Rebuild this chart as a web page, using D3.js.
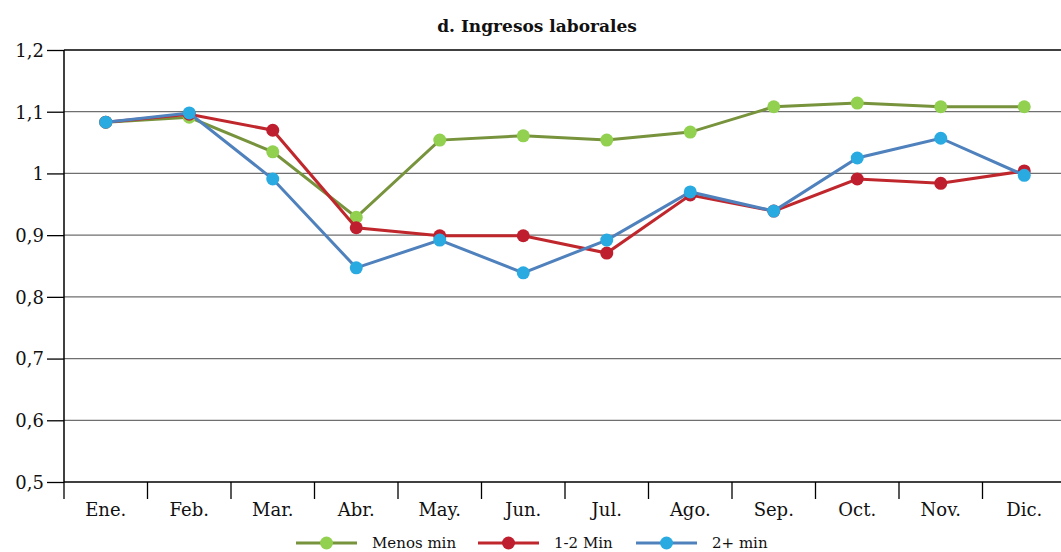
<!DOCTYPE html>
<meta charset="utf-8">
<title>d. Ingresos laborales</title>
<script src="https://d3js.org/d3.v7.min.js"></script>
<style>
  body { margin: 0; background: #fff; }
  text { font-family: "DejaVu Serif", serif; fill: #111; }
</style>
<body>
<div id="viz"></div>
<script>
const months = ["Ene.", "Feb.", "Mar.", "Abr.", "May.", "Jun.", "Jul.", "Ago.", "Sep.", "Oct.", "Nov.", "Dic."];
const menosMin = [1.083, 1.091, 1.035, 0.929, 1.054, 1.061, 1.054, 1.067, 1.108, 1.114, 1.108, 1.108];
const unoDosMin = [1.083, 1.096, 1.070, 0.912, 0.899, 0.899, 0.871, 0.965, 0.939, 0.991, 0.984, 1.004];
const dosMasMin = [1.083, 1.098, 0.991, 0.847, 0.892, 0.839, 0.892, 0.970, 0.939, 1.025, 1.057, 0.997];
const yTicks = [0.5, 0.6, 0.7, 0.8, 0.9, 1.0, 1.1, 1.2];

const series = [
  {name: "Menos min", values: menosMin, line: "#77933c", dot: "#92d050"},
  {name: "1-2 Min", values: unoDosMin, line: "#c0272d", dot: "#be1e2d"},
  {name: "2+ min", values: dosMasMin, line: "#4f81bd", dot: "#29abe2"}
];

const width = 1061, height = 552;
const mLeft = 64, mRight = 1066, mTop = 50, mBottom = 482;

const svg = d3.select("#viz").append("svg")
  .attr("width", width)
  .attr("height", height);

const x = d3.scaleBand().domain(months).range([mLeft, mRight]);
const y = d3.scaleLinear().domain([0.5, 1.2]).range([mBottom, mTop]);

// gridlines
svg.append("g")
  .selectAll("line")
  .data(yTicks.filter(d => d > 0.5))
  .join("line")
  .attr("x1", mLeft).attr("x2", mRight)
  .attr("y1", d => y(d)).attr("y2", d => y(d))
  .attr("stroke", d => d === 1.2 ? "#000" : "#6f6f6f")
  .attr("stroke-width", 1.3);

// y axis
const yAxis = svg.append("g")
  .attr("transform", `translate(${mLeft},0)`)
  .call(d3.axisLeft(y).tickValues(yTicks).tickSize(17).tickPadding(3)
    .tickFormat(d => d3.format(".1f")(d).replace(".", ",").replace(/^1,0$/, "1")));
yAxis.select(".domain").attr("stroke", "#000").attr("stroke-width", 1.5).attr("d", `M0,${mTop}V${mBottom}`);
yAxis.selectAll(".tick line").attr("stroke", "#000").attr("stroke-width", 1.3);
yAxis.selectAll("text").style("font-size", "18px").attr("dy", "0.35em");

// x axis
const xAxis = svg.append("g")
  .attr("transform", `translate(0,${mBottom})`)
  .call(d3.axisBottom(x).tickSize(0).tickPadding(21));
xAxis.select(".domain").attr("stroke", "#000").attr("stroke-width", 1.5).attr("d", `M${mLeft},0H${mRight}`);
xAxis.selectAll("text").style("font-size", "18px");
xAxis.append("g")
  .selectAll("line")
  .data(months)
  .join("line")
  .attr("x1", d => x(d)).attr("x2", d => x(d))
  .attr("y1", 0).attr("y2", 17)
  .attr("stroke", "#000").attr("stroke-width", 1.3);

// title
svg.append("text")
  .attr("x", 537).attr("y", 32)
  .attr("text-anchor", "middle")
  .style("font-size", "17px")
  .style("font-weight", "bold")
  .text("d. Ingresos laborales");

// lines and markers
const line = d3.line()
  .x((d, i) => x(months[i]) + x.bandwidth() / 2)
  .y(d => y(d));

series.forEach(s => {
  const g = svg.append("g");
  g.append("path")
    .attr("d", line(s.values))
    .attr("fill", "none")
    .attr("stroke", s.line)
    .attr("stroke-width", 3);
  g.selectAll("circle")
    .data(s.values)
    .join("circle")
    .attr("cx", (d, i) => x(months[i]) + x.bandwidth() / 2)
    .attr("cy", d => y(d))
    .attr("r", 6.5)
    .attr("fill", s.dot);
});

// legend
const legendX = [296, 478, 636];
const legend = svg.append("g").attr("transform", "translate(0,543)");
series.forEach((s, i) => {
  const g = legend.append("g").attr("transform", `translate(${legendX[i]},0)`);
  g.append("line").attr("x1", 0).attr("x2", 61).attr("stroke", s.line).attr("stroke-width", 3);
  g.append("circle").attr("cx", 30.5).attr("r", 6.5).attr("fill", s.dot);
  g.append("text").attr("x", 76).attr("dy", "0.35em").style("font-size", "15px").text(s.name);
});
</script>
</body>
